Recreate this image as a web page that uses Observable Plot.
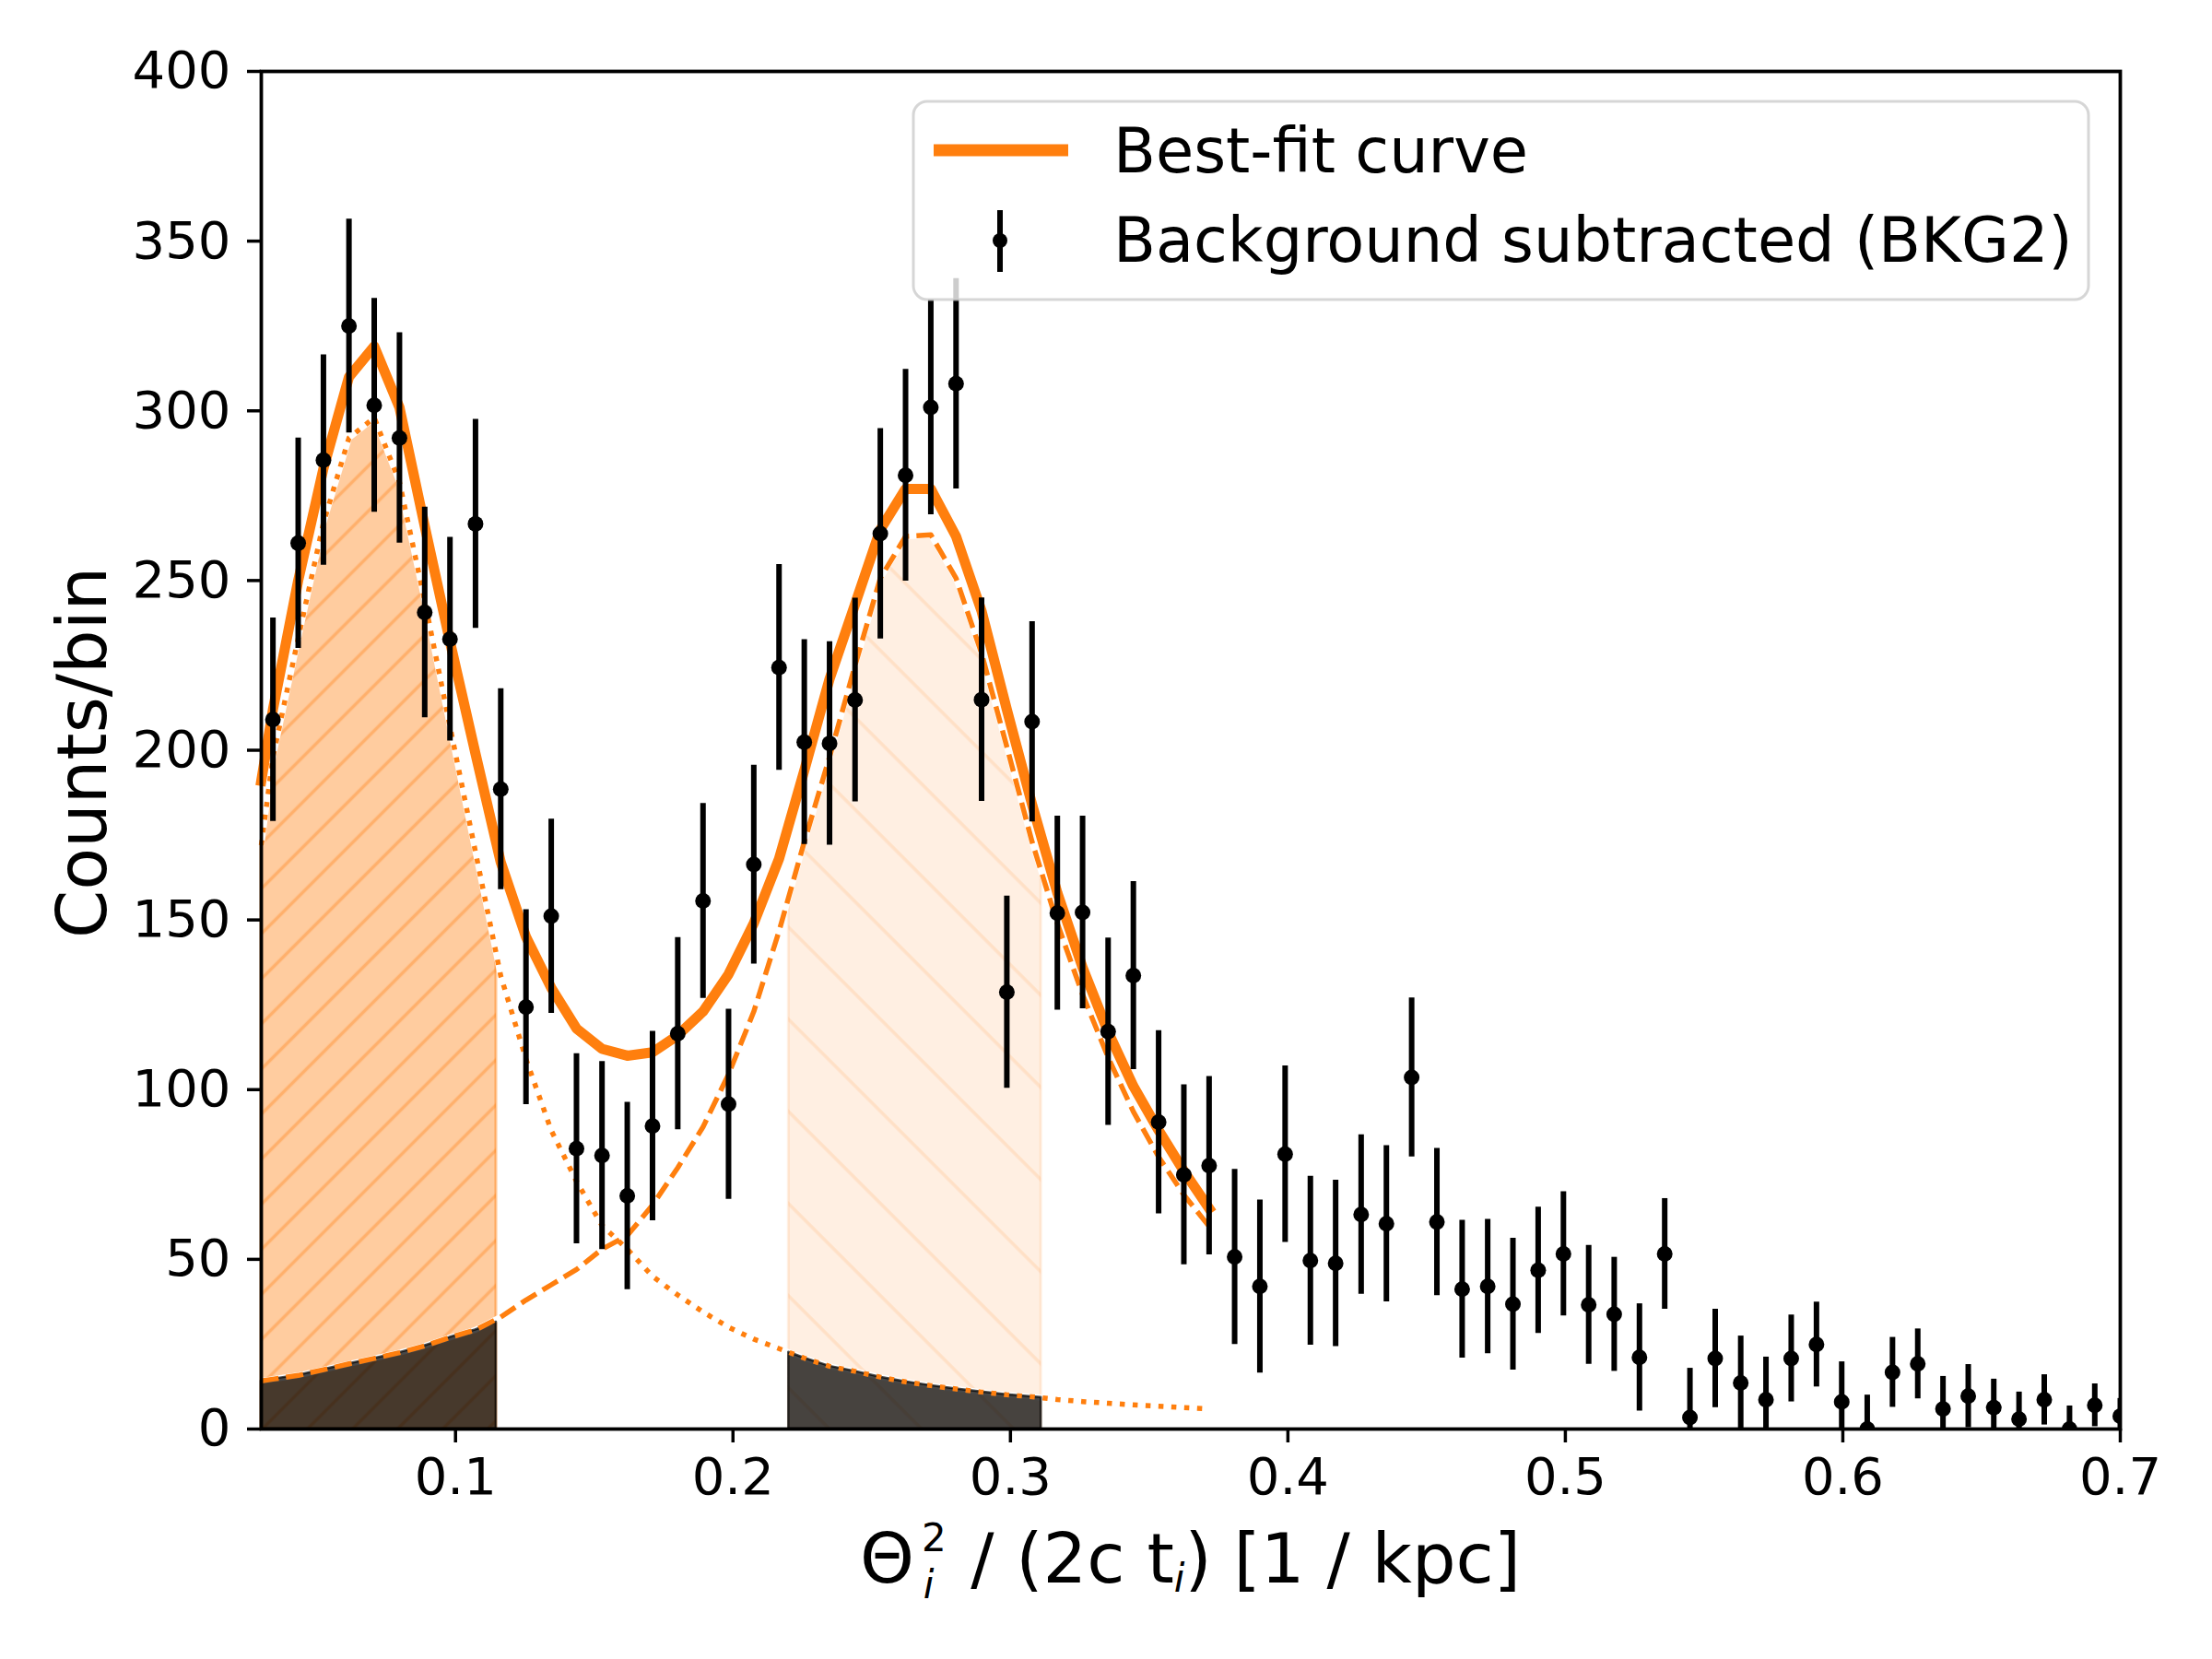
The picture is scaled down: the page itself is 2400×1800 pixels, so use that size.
<!DOCTYPE html>
<html>
<head>
<meta charset="utf-8">
<script src="https://cdn.jsdelivr.net/npm/d3@7"></script>
<script src="https://cdn.jsdelivr.net/npm/@observablehq/plot@0.6"></script>
<style>
  html, body { margin: 0; padding: 0; background: #ffffff; }
  #chart svg { display: block; }
</style>
</head>
<body>
<div id="chart"></div>
<script>
// ---------- data ----------
const binCenters = [0.0342, 0.0433, 0.0524, 0.0616, 0.0707, 0.0798, 0.0889, 0.0980, 0.1072, 0.1163,
  0.1254, 0.1345, 0.1436, 0.1528, 0.1619, 0.1710, 0.1801, 0.1892, 0.1984, 0.2075,
  0.2166, 0.2257, 0.2348, 0.2440, 0.2531, 0.2622, 0.2713, 0.2804, 0.2896, 0.2987,
  0.3078, 0.3169, 0.3260, 0.3352, 0.3443, 0.3534, 0.3625, 0.3716, 0.3808, 0.3899,
  0.3990, 0.4081, 0.4172, 0.4264, 0.4355, 0.4446, 0.4537, 0.4628, 0.4720, 0.4811,
  0.4902, 0.4993, 0.5084, 0.5176, 0.5267, 0.5358, 0.5449, 0.5540, 0.5632, 0.5723,
  0.5814, 0.5905, 0.5996, 0.6088, 0.6179, 0.6270, 0.6361, 0.6452, 0.6544, 0.6635,
  0.6726, 0.6817, 0.6908, 0.7000];

const counts = [209, 261, 285.5, 325, 301.6, 292, 240.6, 232.7, 266.7, 188.5,
  124.3, 151.1, 82.6, 80.6, 68.7, 89.3, 116.5, 155.6, 95.7, 166.3,
  224.4, 202.4, 202, 214.8, 263.8, 281, 301, 308, 214.9, 128.7,
  208.4, 152, 152.2, 117.1, 133.6, 90.4, 74.9, 77.6, 50.7, 42,
  81, 49.6, 48.8, 63.2, 60.5, 103.6, 61, 41.2, 42, 36.8,
  46.8, 51.6, 36.6, 33.8, 21.1, 51.6, 3.4, 20.8, 13.6, 8.6,
  20.8, 24.9, 8.0, 0, 16.7, 19.2, 5.9, 9.7, 6.3, 2.9,
  8.6, 0, 7.0, 3.8];

const countErrors = [30, 31, 31, 31.5, 31.5, 31, 31, 30, 30.8, 29.6,
  28.7, 28.6, 28, 27.7, 27.6, 27.9, 28.3, 28.7, 28, 29.3,
  30.3, 30.2, 30, 30, 31, 31.2, 31.6, 31, 30, 28.3,
  29.5, 28.6, 28.4, 27.6, 27.7, 27, 26.5, 26.3, 25.8, 25.5,
  26, 24.9, 24.5, 23.5, 23, 23.4, 21.7, 20.3, 19.8, 19.4,
  18.6, 18.3, 17.5, 16.8, 15.8, 16.3, 14.5, 14.5, 13.8, 12.6,
  12.8, 12.5, 11.8, 10, 10.3, 10.3, 9.6, 9.3, 8.4, 8.0,
  7.4, 6.8, 6.3, 5.2];

// fitted curves (total, first-peak component, second-peak component)
const fitX = [0.03, 0.0342, 0.0433, 0.0524, 0.0616, 0.0707, 0.0798, 0.0889, 0.0980, 0.1072,
  0.1163, 0.1254, 0.1345, 0.1436, 0.1528, 0.1619, 0.1710, 0.1801, 0.1892, 0.1984,
  0.2075, 0.2166, 0.2257, 0.2348, 0.2440, 0.2531, 0.2622, 0.2713, 0.2804, 0.2896,
  0.2987, 0.3078, 0.3169, 0.3260, 0.3352, 0.3443, 0.3534, 0.3625, 0.3716];
const fitTotal = [191, 212, 250, 283, 310, 319, 301, 266, 232, 199,
  167, 145, 130, 118, 112, 110, 111, 116, 123, 134,
  149, 168, 194, 221, 243, 265, 277, 277, 263, 241,
  212, 184, 158, 136, 117, 101, 88, 76, 65];
const fitPeak1 = [172, 198, 233, 267, 292, 298, 279, 244, 207, 170,
  133.5, 109, 88, 73, 60, 53, 45, 39.5, 34.5, 30,
  26.5, 23.7, 20.9, 18.5, 17, 15.3, 13.9, 12.8, 11.8, 10.9,
  10.1, 9.5, 8.7, 8.1, 7.6, 7.1, 6.7, 6.3, 5.9];
const fitPeak2 = [14.2, 14.7, 15.8, 17.5, 19.2, 20.8, 22.5, 24.5, 27, 29.2,
  33, 38, 42.5, 47, 53, 57, 66, 77, 89, 104.5,
  123, 146.7, 173, 198, 225, 250.7, 263, 263.5, 250.7, 228.5,
  201, 173, 149, 128, 109.5, 93.5, 80.2, 69, 59.7];

// integration windows and the component values at their edges
const windowEdges = [[0.03, 0.1147], [0.2201, 0.3111]];
const edgePeak1 = [[172, 140], [22.6, 9.3]];
const edgePeak2 = [[14.2, 31.5], [157, 165]];

const xTicks = [0.1, 0.2, 0.3, 0.4, 0.5, 0.6, 0.7];
const yTicks = [0, 50, 100, 150, 200, 250, 300, 350, 400];
const yLabel = "Counts/bin";
const legendLabels = ["Best-fit curve", "Background subtracted (BKG2)"];

(function draw() {
  // ---------- tables ----------
  const points = binCenters.map((x, i) => ({x, v: counts[i], e: countErrors[i]}));
  const fit = fitX.map((x, i) => ({x, total: fitTotal[i], p1: fitPeak1[i], p2: fitPeak2[i]}));
  function windowRows(k) {
    const [a, b] = windowEdges[k];
    const rows = [{x: a, p1: edgePeak1[k][0], p2: edgePeak2[k][0]}];
    fit.forEach(d => { if (d.x > a && d.x < b) rows.push({x: d.x, p1: d.p1, p2: d.p2}); });
    rows.push({x: b, p1: edgePeak1[k][1], p2: edgePeak2[k][1]});
    return rows;
  }
  const win1 = windowRows(0);
  const win2 = windowRows(1);

  const ORANGE = "#ff7f0e";
  const FONT = "DejaVu Sans";

  const plot = Plot.plot({
    width: 2400,
    height: 1800,
    marginLeft: 283,
    marginRight: 100,
    marginTop: 77,
    marginBottom: 250,
    x: {domain: [0.03, 0.7]},
    y: {domain: [0, 400]},
    style: {fontFamily: FONT, fontSize: "56px", color: "black", background: "white"},
    marks: [
      Plot.areaY(win1, {x: "x", y1: 0, y2: "p1", fill: "url(#hatchA)", stroke: ORANGE, strokeOpacity: 0.45, strokeWidth: 3}),
      Plot.areaY(win2, {x: "x", y1: 0, y2: "p2", fill: "url(#hatchB)", stroke: ORANGE, strokeOpacity: 0.12, strokeWidth: 3}),
      Plot.line(fit, {x: "x", y: "p1", stroke: "white", strokeWidth: 6.5, strokeLinecap: "butt"}),
      Plot.line(fit, {x: "x", y: "p2", stroke: "white", strokeWidth: 6.5, strokeLinecap: "butt"}),
      Plot.areaY(win1, {x: "x", y1: 0, y2: "p2", fill: "black", fillOpacity: 0.72, stroke: "black", strokeOpacity: 0.7, strokeWidth: 2.5}),
      Plot.areaY(win2, {x: "x", y1: 0, y2: "p1", fill: "black", fillOpacity: 0.72, stroke: "black", strokeOpacity: 0.7, strokeWidth: 2.5}),
      Plot.line(fit, {x: "x", y: "p1", stroke: ORANGE, strokeWidth: 5.5, strokeDasharray: "5.5,8.5", strokeLinecap: "butt"}),
      Plot.line(fit, {x: "x", y: "p2", stroke: ORANGE, strokeWidth: 5.5, strokeDasharray: "19,8", strokeLinecap: "butt"}),
      Plot.line(fit, {x: "x", y: "total", stroke: ORANGE, strokeWidth: 11, strokeLinejoin: "round", strokeLinecap: "square"}),
      Plot.ruleX(points, {x: "x", y1: d => d.v - d.e, y2: d => d.v + d.e, stroke: "black", strokeWidth: 6, clip: true}),
      Plot.dot(points, {x: "x", y: "v", r: 8.5, fill: "black", clip: true}),
      Plot.axisX({ticks: xTicks, tickFormat: d => String(d), tickSize: 15, tickPadding: 16, strokeWidth: 3.5, fontSize: 56, label: null}),
      Plot.axisY({ticks: yTicks, tickFormat: d => String(d), tickSize: 15, tickPadding: 18, strokeWidth: 3.5, fontSize: 56, label: null}),
      Plot.frame({stroke: "black", strokeWidth: 3.8})
    ]
  });

  // hatch patterns
  const svg = d3.select(plot);
  const defs = svg.insert("defs", ":first-child");
  const pa = defs.append("pattern").attr("id", "hatchA").attr("patternUnits", "userSpaceOnUse")
    .attr("width", 34.6).attr("height", 34.6).attr("patternTransform", "rotate(45)");
  pa.append("rect").attr("width", 34.6).attr("height", 34.6).attr("fill", "#ffcc9f");
  pa.append("line").attr("x1", 17.3).attr("x2", 17.3).attr("y1", -1).attr("y2", 35.6)
    .attr("stroke", "#ffb06c").attr("stroke-width", 3.5);
  const pb = defs.append("pattern").attr("id", "hatchB").attr("patternUnits", "userSpaceOnUse")
    .attr("width", 70.7).attr("height", 70.7).attr("patternTransform", "rotate(-45)");
  pb.append("rect").attr("width", 70.7).attr("height", 70.7).attr("fill", "#ffefe2");
  pb.append("line").attr("x1", 35).attr("x2", 35).attr("y1", -1).attr("y2", 71.7)
    .attr("stroke", "#ffe0c6").attr("stroke-width", 3.5);

  // frame geometry from the scales
  const xr = plot.scale("x").range;
  const yr = plot.scale("y").range;
  const fLeft = Math.min(...xr), fRight = Math.max(...xr);
  const fTop = Math.min(...yr), fBottom = Math.max(...yr);

  // axis labels
  svg.append("text")
    .attr("transform", `translate(115,${(fTop + fBottom) / 2 + 3}) rotate(-90)`)
    .attr("text-anchor", "middle").attr("font-family", FONT).attr("font-size", 75)
    .attr("fill", "black").text(yLabel);

  const xl = svg.append("text")
    .attr("x", (fLeft + fRight) / 2).attr("y", fBottom + 167)
    .attr("text-anchor", "middle").attr("font-family", FONT).attr("font-size", 75).attr("fill", "black");
  xl.append("tspan").text("\u0398");
  xl.append("tspan").attr("font-size", 42).attr("dx", 8).attr("dy", -34).text("2");
  xl.append("tspan").attr("font-size", 42).attr("font-style", "italic").attr("dx", -25).attr("dy", 51).text("i");
  xl.append("tspan").attr("dx", 16).attr("dy", -17).text(" / (2c t");
  xl.append("tspan").attr("font-size", 42).attr("font-style", "italic").attr("dy", 10).text("i");
  xl.append("tspan").attr("dy", -10).text(") [1 / kpc]");

  // legend
  const bw = 1275, bh = 215;
  const bx = fRight - 34 - bw, by = fTop + 33;
  const lg = svg.append("g").attr("font-family", FONT).attr("font-size", 67).attr("text-anchor", "start");
  lg.append("rect").attr("x", bx).attr("y", by).attr("width", bw).attr("height", bh).attr("rx", 15)
    .attr("fill", "white").attr("fill-opacity", 0.8).attr("stroke", "#cccccc").attr("stroke-opacity", 0.8).attr("stroke-width", 3);
  lg.append("line").attr("x1", bx + 22).attr("x2", bx + 168).attr("y1", by + 53).attr("y2", by + 53)
    .attr("stroke", ORANGE).attr("stroke-width", 13);
  lg.append("text").attr("x", bx + 217).attr("y", by + 77).attr("text-anchor", "start").attr("fill", "black").text(legendLabels[0]);
  lg.append("line").attr("x1", bx + 94).attr("x2", bx + 94).attr("y1", by + 118).attr("y2", by + 185)
    .attr("stroke", "black").attr("stroke-width", 6);
  lg.append("circle").attr("cx", bx + 94).attr("cy", by + 151).attr("r", 8).attr("fill", "black");
  lg.append("text").attr("x", bx + 217).attr("y", by + 174).attr("text-anchor", "start").attr("fill", "black").text(legendLabels[1]);

  document.getElementById("chart").appendChild(plot);
})();
</script>
</body>
</html>
